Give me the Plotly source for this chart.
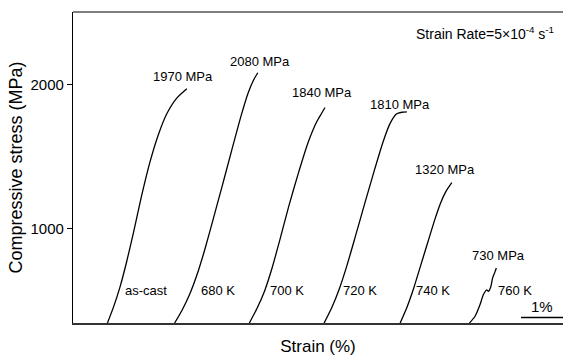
import plotly.graph_objects as go

# Strain (%) offsets and compressive stress (MPa)
ascast_strain = [0.82, 0.97, 1.12, 1.27, 1.44, 1.63, 1.83, 2.03, 2.23, 2.47, 2.71]
ascast_stress = [350, 465, 600, 765, 975, 1225, 1460, 1650, 1795, 1905, 1970]

k680_strain = [2.42, 2.60, 2.78, 2.96, 3.14, 3.33, 3.55, 3.78, 4.00, 4.17, 4.30, 4.40]
k680_stress = [350, 440, 550, 690, 860, 1060, 1295, 1545, 1780, 1940, 2030, 2080]

k700_strain = [4.20, 4.38, 4.56, 4.74, 4.93, 5.14, 5.37, 5.60, 5.80, 5.92, 6.00]
k700_stress = [350, 450, 570, 730, 930, 1160, 1390, 1600, 1740, 1800, 1840]

k720_strain = [5.98, 6.16, 6.34, 6.52, 6.72, 6.94, 7.17, 7.38, 7.55, 7.70, 7.83, 7.95]
k720_stress = [350, 455, 585, 745, 945, 1170, 1400, 1600, 1730, 1795, 1807, 1810]

k740_strain = [7.79, 7.94, 8.10, 8.27, 8.45, 8.62, 8.76, 8.88, 9.02]
k740_stress = [350, 450, 580, 740, 910, 1070, 1185, 1260, 1320]

k760_strain = [9.44, 9.57, 9.69, 9.77, 9.85, 9.89, 9.95, 9.99, 10.05, 10.08]
k760_stress = [350, 395, 476, 545, 579, 568, 602, 660, 705, 730]

series_names = ["as-cast", "680 K", "700 K", "720 K", "740 K", "760 K"]
series_strain = [ascast_strain, k680_strain, k700_strain, k720_strain, k740_strain, k760_strain]
series_stress = [ascast_stress, k680_stress, k700_stress, k720_stress, k740_stress, k760_stress]
peak_labels = ["1970 MPa", "2080 MPa", "1840 MPa", "1810 MPa", "1320 MPa", "730 MPa"]
peak_shift_x = [-4, 2, -3, -7, -7, 2]
peak_shift_y = [12, 11, 15, 7, 13, 13]
name_label_x = [1.19, 3.00, 4.64, 6.38, 8.12, 10.07]
name_label_y = 572

FONT = "Liberation Sans, Arial, sans-serif"

fig = go.Figure()
for nm, xs, ys in zip(series_names, series_strain, series_stress):
    fig.add_trace(go.Scatter(x=xs, y=ys, mode="lines", name=nm,
                             line=dict(color="black", width=1.3, shape="spline", smoothing=0.6),
                             showlegend=False, hoverinfo="skip"))

annotations = []
for lab, xs, ys, dx, dy in zip(peak_labels, series_strain, series_stress, peak_shift_x, peak_shift_y):
    annotations.append(dict(x=xs[-1], y=ys[-1], xref="x", yref="y", text=lab, showarrow=False,
                            xanchor="center", yanchor="middle", xshift=dx, yshift=dy,
                            font=dict(family=FONT, size=13, color="black")))
for nm, lx in zip(series_names, name_label_x):
    annotations.append(dict(x=lx, y=name_label_y, xref="x", yref="y", text=nm, showarrow=False,
                            xanchor="left", yanchor="middle",
                            font=dict(family=FONT, size=13, color="black")))
annotations.append(dict(x=0.986, y=0.932, xref="paper", yref="paper",
                        text="Strain Rate=5×10<sup>-4</sup> s<sup>-1</sup>", showarrow=False,
                        xanchor="right", yanchor="middle",
                        font=dict(family=FONT, size=14, color="black")))
# scale bar 1 %
bar_x0, bar_x1, bar_y = 10.667, 11.667, 388
annotations.append(dict(x=(bar_x0 + bar_x1) / 2, y=464, xref="x", yref="y", text="1%", showarrow=False,
                        xanchor="center", yanchor="middle",
                        font=dict(family=FONT, size=15, color="black")))

fig.update_layout(
    width=563, height=360,
    margin=dict(l=73, r=0, t=12, b=37),
    paper_bgcolor="white", plot_bgcolor="white",
    font=dict(family=FONT, color="black"),
    annotations=annotations,
    shapes=[
        dict(type="line", xref="x", yref="y", x0=bar_x0, x1=bar_x1, y0=bar_y, y1=bar_y,
             line=dict(color="black", width=1.3)),
        dict(type="line", xref="paper", yref="paper", x0=0, x1=1, y0=1, y1=1,
             line=dict(color="black", width=1.2)),
    ],
    xaxis=dict(range=[0, 11.667], showgrid=False, zeroline=False, showticklabels=False,
               ticks="", showline=True, linecolor="#333", linewidth=2,
               title=dict(text="Strain (%)", font=dict(family=FONT, size=17), standoff=16)),
    yaxis=dict(range=[350, 2500], showgrid=False, zeroline=False, tickvals=[1000, 2000],
               ticks="outside", ticklen=5, tickcolor="black", showline=True, linecolor="black",
               linewidth=1.2, tickfont=dict(family=FONT, size=15),
               title=dict(text="Compressive stress (MPa)", font=dict(family=FONT, size=18), standoff=3)),
)

fig.write_html("out.html", config={"displayModeBar": False},
               post_script="document.body.style.margin='0';document.body.style.overflow='hidden';")
